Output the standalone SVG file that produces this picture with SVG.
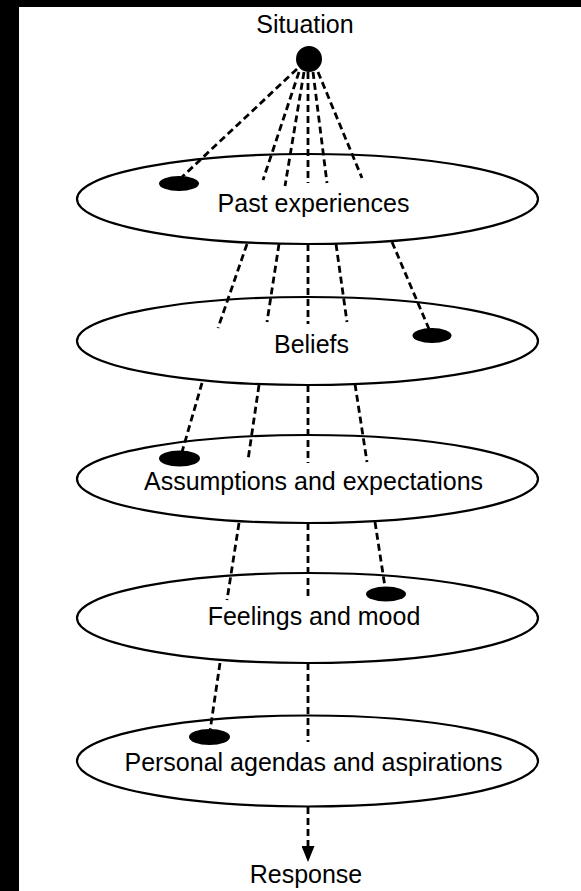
<svg xmlns="http://www.w3.org/2000/svg" width="581" height="891" viewBox="0 0 581 891">
<style>
.lbl{font-family:"Liberation Sans",Arial,sans-serif;font-size:25px;fill:#000;text-anchor:middle}
.layer{fill:#fff;stroke:#000;stroke-width:2.2}
.dot{fill:#000;stroke:none}
.dash{stroke:#000;stroke-width:2.8;stroke-dasharray:7 4;fill:none}
</style>
<defs>
<marker id="arr" viewBox="0 0 16 13" refX="15" refY="6.5" markerWidth="16" markerHeight="13" markerUnits="userSpaceOnUse" orient="auto">
<path d="M0,0 L16,6.5 L0,13 Z" fill="#000"/>
</marker>
</defs>
<rect x="0" y="0" width="581" height="891" fill="#fff"/>
<rect x="0" y="0" width="19" height="891" fill="#000"/>
<rect x="0" y="0" width="581" height="7" fill="#000"/>

<g id="situation">
<text class="lbl" x="305" y="33">Situation</text>
<circle class="dot" cx="309" cy="59" r="13"/>
</g>
<g id="past-experiences">
<ellipse class="layer" cx="307.5" cy="199" rx="230.5" ry="45"/>
<text class="lbl" x="313.5" y="211.5">Past experiences</text>
<ellipse class="dot" cx="179" cy="183.5" rx="20" ry="7.5"/>
</g>
<g id="beliefs">
<ellipse class="layer" cx="307.5" cy="341" rx="230.5" ry="44"/>
<text class="lbl" x="311.5" y="353">Beliefs</text>
<ellipse class="dot" cx="432" cy="335.5" rx="19.5" ry="7.5"/>
</g>
<g id="assumptions">
<ellipse class="layer" cx="307.5" cy="479" rx="230.5" ry="44"/>
<text class="lbl" x="313.5" y="490">Assumptions and expectations</text>
<ellipse class="dot" cx="179.5" cy="458.5" rx="20.5" ry="8"/>
</g>
<g id="feelings">
<ellipse class="layer" cx="307.5" cy="618" rx="230.5" ry="45"/>
<text class="lbl" x="314" y="625">Feelings and mood</text>
<ellipse class="dot" cx="386" cy="594" rx="20" ry="7.5"/>
</g>
<g id="agendas">
<ellipse class="layer" cx="307.5" cy="761" rx="230.5" ry="45.5"/>
<text class="lbl" x="313.5" y="771">Personal agendas and aspirations</text>
<ellipse class="dot" cx="209.5" cy="737" rx="20.5" ry="8"/>
</g>
<g id="response">
<text class="lbl" x="306" y="883">Response</text>
</g>

<g id="connectors">
<line class="dash" x1="297" y1="69" x2="182" y2="177"/>
<line class="dash" x1="299" y1="72" x2="263" y2="180"/>
<line class="dash" x1="304" y1="72" x2="285" y2="186"/>
<line class="dash" x1="308" y1="72" x2="308" y2="183"/>
<line class="dash" x1="313" y1="72" x2="327" y2="183"/>
<line class="dash" x1="318" y1="72" x2="362" y2="178"/>

<line class="dash" x1="247" y1="244" x2="218" y2="328"/>
<line class="dash" x1="279" y1="244" x2="267" y2="322"/>
<line class="dash" x1="308" y1="244" x2="308" y2="324"/>
<line class="dash" x1="336" y1="244" x2="347" y2="322"/>
<line class="dash" x1="392" y1="242" x2="429" y2="329"/>

<line class="dash" x1="202" y1="383" x2="182" y2="452"/>
<line class="dash" x1="259" y1="385" x2="248" y2="460"/>
<line class="dash" x1="308" y1="385" x2="308" y2="463"/>
<line class="dash" x1="355" y1="384" x2="367" y2="462"/>

<line class="dash" x1="239" y1="523" x2="227" y2="600"/>
<line class="dash" x1="308" y1="523" x2="308" y2="600"/>
<line class="dash" x1="375" y1="522" x2="385" y2="587"/>

<line class="dash" x1="220" y1="663" x2="210" y2="731"/>
<line class="dash" x1="308" y1="663" x2="308" y2="742"/>

<line class="dash" x1="308" y1="807" x2="308" y2="861" marker-end="url(#arr)"/>
</g>
</svg>
